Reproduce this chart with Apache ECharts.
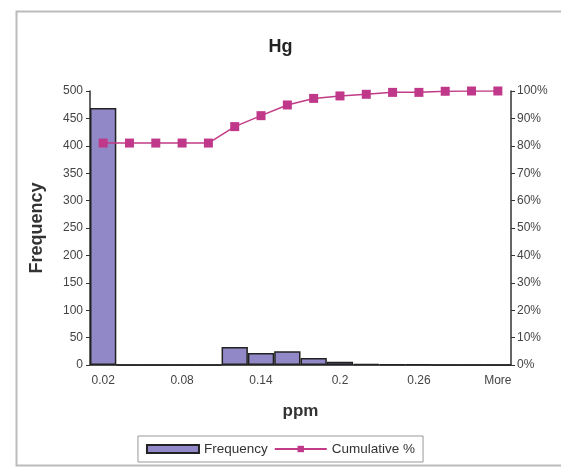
<!DOCTYPE html>
<html>
<head>
<meta charset="utf-8">
<script src="https://cdn.jsdelivr.net/npm/echarts@6/dist/echarts.min.js"></script>
<style>
  html, body { margin: 0; padding: 0; background: #fff; }
  #chart { width: 561px; height: 467px; }
</style>
</head>
<body>
<div id="chart"></div>
<script>
const bins = ['0.02', '0.04', '0.06', '0.08', '0.1', '0.12', '0.14', '0.16', '0.18', '0.2', '0.22', '0.24', '0.26', '0.28', '0.3', 'More'];
const frequency = [469, 0, 0, 0, 0, 33, 22, 25, 13, 6, 2, 1, 1, 0, 0, 0];
const cumulative = [81, 81, 81, 81, 81, 87, 91, 94.9, 97.3, 98.2, 98.8, 99.5, 99.5, 99.9, 100, 100];

const chart = echarts.init(document.getElementById('chart'));
const labelFont = { fontFamily: 'Liberation Sans, Arial, sans-serif', fontSize: 12, color: '#444' };

chart.setOption({
  animation: false,
  backgroundColor: '#fff',
  textStyle: { fontFamily: 'Liberation Sans, Arial, sans-serif' },
  graphic: [{
    type: 'rect',
    left: 14, top: 9,
    shape: { width: 560, height: 454 },
    style: { fill: 'none', stroke: '#bbb', lineWidth: 2 },
    silent: true
  }],
  title: {
    text: 'Hg',
    left: 'center',
    top: 33,
    textStyle: { fontSize: 18, fontWeight: 'bold', color: '#222' }
  },
  grid: { left: 90, right: 50, top: 91, bottom: 102 },
  legend: {
    bottom: 5,
    left: 'center',
    padding: [6, 8],
    itemGap: 6,
    itemWidth: 52,
    itemHeight: 8,
    borderColor: '#999',
    borderWidth: 1,
    textStyle: { fontSize: 13.5, color: '#333' },
    data: [{ name: 'Frequency', icon: 'rect' }, { name: 'Cumulative %' }]
  },
  xAxis: [{
    type: 'category',
    data: bins,
    boundaryGap: true,
    name: 'ppm',
    nameLocation: 'middle',
    nameGap: 38,
    nameTextStyle: { fontSize: 17, fontWeight: 'bold', color: '#333' },
    axisLine: { lineStyle: { color: '#333', width: 1.5 } },
    axisTick: { interval: 0, length: 4, lineStyle: { color: '#333' } },
    axisLabel: Object.assign({ interval: 2, margin: 10 }, labelFont),
    splitLine: { show: false }
  }, {
    type: 'category',
    data: bins,
    position: 'top',
    axisLine: { lineStyle: { color: '#555', width: 1 } },
    axisTick: { show: false },
    axisLabel: { show: false }
  }],
  yAxis: [{
    type: 'value',
    min: 0, max: 500, interval: 50,
    name: 'Frequency',
    nameLocation: 'middle',
    nameGap: 44,
    nameTextStyle: { fontSize: 18, fontWeight: 'bold', color: '#333' },
    axisLine: { show: true, lineStyle: { color: '#333', width: 1.5 } },
    axisTick: { show: true, length: 4, lineStyle: { color: '#333' } },
    axisLabel: Object.assign({ margin: 7 }, labelFont),
    splitLine: { show: false }
  }, {
    type: 'value',
    min: 0, max: 100, interval: 10,
    position: 'right',
    axisLine: { show: true, lineStyle: { color: '#333', width: 1.5 } },
    axisTick: { show: true, length: 4, lineStyle: { color: '#333' } },
    axisLabel: Object.assign({ margin: 6, formatter: '{value}%' }, labelFont),
    splitLine: { show: false }
  }],
  series: [{
    name: 'Frequency',
    type: 'bar',
    data: frequency,
    barCategoryGap: 0,
    itemStyle: { color: '#9189c7', borderColor: '#222', borderWidth: 1.5 }
  }, {
    name: 'Cumulative %',
    type: 'line',
    yAxisIndex: 1,
    data: cumulative,
    symbol: 'rect',
    symbolSize: 9,
    lineStyle: { color: '#c23b86', width: 1.5 },
    itemStyle: { color: '#c0388a' }
  }]
});
</script>
</body>
</html>
